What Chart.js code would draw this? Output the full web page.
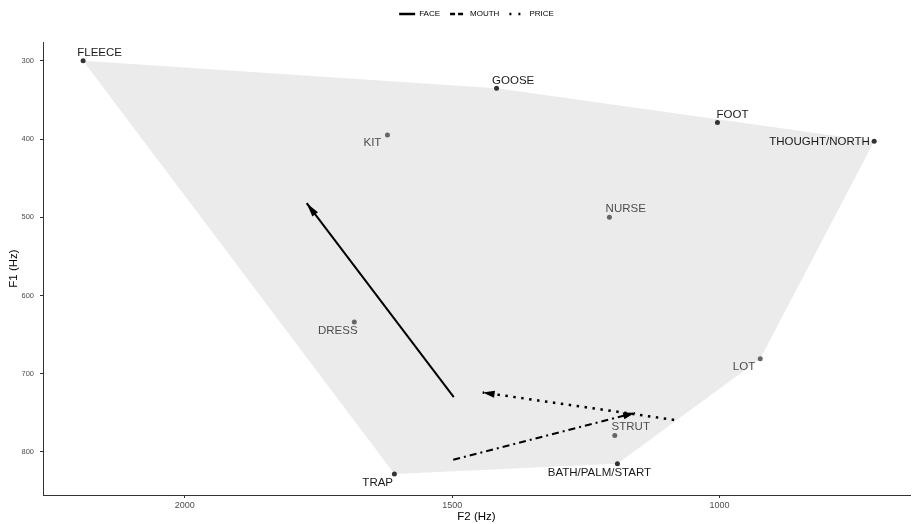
<!DOCTYPE html>
<html>
<head>
<meta charset="utf-8">
<script src="https://cdn.jsdelivr.net/npm/chart.js@4.4.0/dist/chart.umd.min.js"></script>
<style>
  html, body { margin: 0; padding: 0; background: #fff; }
  #wrap { width: 914px; height: 524px; }
</style>
</head>
<body>
<div id="wrap"><canvas id="vowelChart" width="914" height="524"></canvas></div>
<script>
// vowel means (Hz)
var vowels = ['FLEECE', 'GOOSE', 'FOOT', 'THOUGHT/NORTH', 'KIT', 'NURSE', 'DRESS', 'LOT', 'STRUT', 'BATH/PALM/START', 'TRAP'];
var vowelF2 = [2190, 1417, 1004, 711, 1621, 1206, 1683, 924, 1196, 1191, 1608];
var vowelF1 = [300, 335, 379, 403, 395, 500, 634, 681, 779, 815, 828];
var darkVowels = ['FLEECE', 'GOOSE', 'FOOT', 'THOUGHT/NORTH', 'BATH/PALM/START', 'TRAP'];
var hullVowels = ['FLEECE', 'GOOSE', 'THOUGHT/NORTH', 'LOT', 'BATH/PALM/START', 'TRAP'];

// diphthong trajectories
var trajNames = ['FACE', 'MOUTH', 'PRICE'];
var faceF2 = [1497, 1772];
var faceF1 = [730, 482];
var mouthF2 = [1498, 1158];
var mouthF1 = [810, 750];
var priceF2 = [1085, 1443];
var priceF1 = [759, 724];

var xTicks = [2000, 1500, 1000];
var yTicks = [300, 400, 500, 600, 700, 800];

var fontFamily = '"Liberation Sans", Arial, sans-serif';

// label offsets from the point: dx, dy, align
var labelPlace = {
  'FLEECE': [16.5, -7.7, 'center'],
  'GOOSE': [16.6, -7.4, 'center'],
  'FOOT': [15, -8, 'center'],
  'THOUGHT/NORTH': [-4.3, 0, 'right'],
  'KIT': [-15, 7.4, 'center'],
  'NURSE': [16.3, -8.4, 'center'],
  'DRESS': [-16.5, 9, 'center'],
  'LOT': [-16.2, 8, 'center'],
  'STRUT': [16, -9, 'center'],
  'BATH/PALM/START': [-18, 9, 'center'],
  'TRAP': [-16.7, 9, 'center']
};
var legendDash = { 'FACE': [], 'MOUTH': [5, 3], 'PRICE': [2, 7] };

function pointsOf(f2, f1) {
  return f2.map(function(v, i) { return { x: v, y: f1[i] }; });
}
var hullData = hullVowels.map(function(v) {
  var i = vowels.indexOf(v);
  return { x: vowelF2[i], y: vowelF1[i] };
});

// draws vowel labels
var vowelLabels = {
  id: 'vowelLabels',
  afterDatasetsDraw: function(chart) {
    var ctx = chart.ctx, xs = chart.scales.x, ys = chart.scales.y;
    ctx.save();
    ctx.font = '11.5px ' + fontFamily;
    ctx.textBaseline = 'middle';
    vowels.forEach(function(v, i) {
      var p = labelPlace[v];
      var px = xs.getPixelForValue(vowelF2[i]);
      var py = ys.getPixelForValue(vowelF1[i]);
      ctx.fillStyle = darkVowels.indexOf(v) >= 0 ? '#1a1a1a' : '#4d4d4d';
      ctx.textAlign = p[2];
      ctx.fillText(v, px + p[0], py + p[1]);
    });
    ctx.restore();
  }
};

// closed arrowheads at the end of each trajectory
var arrowHeads = {
  id: 'arrowHeads',
  afterDatasetsDraw: function(chart) {
    var ctx = chart.ctx;
    chart.data.datasets.forEach(function(ds, i) {
      if (trajNames.indexOf(ds.label) < 0) return;
      var pts = chart.getDatasetMeta(i).data;
      var a = pts[pts.length - 2], b = pts[pts.length - 1];
      var ang = Math.atan2(b.y - a.y, b.x - a.x);
      var len = ds.label === 'FACE' ? 14 : 12, half = 3.5;
      var bx = b.x - Math.cos(ang) * len, by = b.y - Math.sin(ang) * len;
      ctx.save();
      ctx.fillStyle = '#000';
      ctx.beginPath();
      ctx.moveTo(b.x, b.y);
      ctx.lineTo(bx + Math.sin(ang) * half, by - Math.cos(ang) * half);
      ctx.lineTo(bx - Math.sin(ang) * half, by + Math.cos(ang) * half);
      ctx.closePath();
      ctx.fill();
      ctx.restore();
    });
  }
};

var ctx = document.getElementById('vowelChart').getContext('2d');
var vowelChart = new Chart(ctx, {
  type: 'scatter',
  data: {
    datasets: [
      {
        label: 'hull',
        data: hullData,
        showLine: true,
        fill: 'shape',
        backgroundColor: '#ebebeb',
        borderWidth: 0,
        borderColor: 'rgba(0,0,0,0)',
        pointRadius: 0,
        order: 10
      },
      {
        label: 'vowels',
        data: pointsOf(vowelF2, vowelF1),
        pointRadius: 2.5,
        pointBorderWidth: 0,
        pointBackgroundColor: vowels.map(function(v) { return darkVowels.indexOf(v) >= 0 ? '#333' : '#666'; }),
        order: 5
      },
      {
        label: 'FACE',
        data: pointsOf(faceF2, faceF1),
        showLine: true,
        borderColor: '#000',
        backgroundColor: '#000',
        borderWidth: 2,
        pointRadius: 0,
        pointStyle: 'line',
        order: 1
      },
      {
        label: 'MOUTH',
        data: pointsOf(mouthF2, mouthF1),
        showLine: true,
        borderColor: '#000',
        backgroundColor: '#000',
        borderWidth: 2,
        borderDash: [7, 4, 2, 4],
        pointRadius: 0,
        pointStyle: 'line',
        order: 1
      },
      {
        label: 'PRICE',
        data: pointsOf(priceF2, priceF1),
        showLine: true,
        borderColor: '#000',
        backgroundColor: '#000',
        borderWidth: 2.5,
        borderDash: [2.5, 5.5],
        pointRadius: 0,
        pointStyle: 'line',
        order: 1
      }
    ]
  },
  options: {
    responsive: false,
    animation: false,
    devicePixelRatio: 1,
    layout: { padding: { top: 0, right: 2, bottom: 0, left: 0 } },
    plugins: {
      tooltip: { enabled: false },
      legend: {
        position: 'top',
        fullSize: false,
        labels: {
          usePointStyle: true,
          pointStyleWidth: 16,
          padding: 10,
          color: '#000',
          font: { family: fontFamily, size: 8 },
          generateLabels: function(chart) {
            var items = Chart.defaults.plugins.legend.labels.generateLabels(chart);
            return items.filter(function(it) { return trajNames.indexOf(it.text) >= 0; })
              .map(function(it) {
                it.lineDash = legendDash[it.text];
                it.lineWidth = 2.5;
                it.pointStyle = 'line';
                it.strokeStyle = '#000';
                return it;
              });
          }
        }
      }
    },
    scales: {
      x: {
        type: 'linear',
        reverse: true,
        min: 644,
        max: 2265,
        afterBuildTicks: function(s) { s.ticks = xTicks.map(function(v) { return { value: v }; }); },
        afterFit: function(s) { s.height = 29; },
        grid: { display: true, drawOnChartArea: false, drawTicks: true, tickLength: 3, tickColor: '#333' },
        border: { display: true, color: '#333', width: 1 },
        ticks: {
          color: '#4d4d4d', font: { family: fontFamily, size: 9 }, padding: 2, maxRotation: 0, autoSkip: false,
          callback: function(v) { return String(v); }
        },
        title: { display: true, text: 'F2 (Hz)', color: '#000', font: { family: fontFamily, size: 11.5 }, padding: { top: 0, bottom: 0 } }
      },
      y: {
        type: 'linear',
        reverse: true,
        min: 276,
        max: 855,
        afterBuildTicks: function(s) { s.ticks = yTicks.map(function(v) { return { value: v }; }); },
        afterFit: function(s) { s.width = 43; },
        grid: { display: true, drawOnChartArea: false, drawTicks: true, tickLength: 3, tickColor: '#333' },
        border: { display: true, color: '#333', width: 1 },
        ticks: {
          color: '#4d4d4d', font: { family: fontFamily, size: 7.5 }, padding: 6, autoSkip: false,
          callback: function(v) { return String(v); }
        },
        title: { display: true, text: 'F1 (Hz)', color: '#000', font: { family: fontFamily, size: 11.5 }, padding: { top: 7, bottom: 0 } }
      },
      gap: {
        type: 'linear',
        position: 'top',
        display: true,
        grid: { display: false },
        border: { display: false },
        ticks: { display: false },
        afterFit: function(s) { s.height = 14; }
      }
    }
  },
  plugins: [vowelLabels, arrowHeads]
});
</script>
</body>
</html>
